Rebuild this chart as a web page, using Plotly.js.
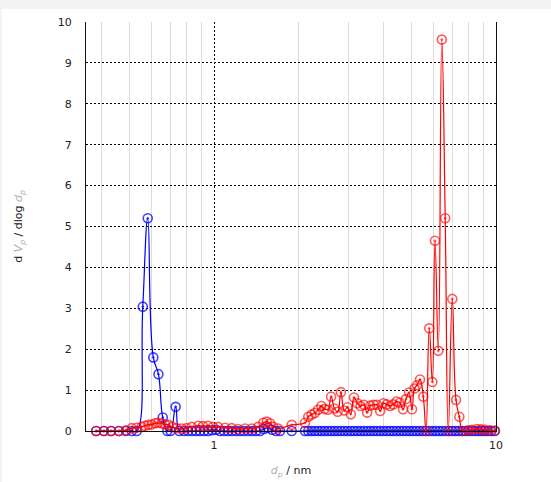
<!DOCTYPE html>
<html><head><meta charset="utf-8">
<script src="https://cdn.plot.ly/plotly-3.0.1.min.js"></script>
<style>
html,body{margin:0;padding:0;background:#f4f4f4;width:551px;height:482px;overflow:hidden}
#chart{position:absolute;left:2px;top:9px;width:549px;height:473px;background:#fff}
</style></head>
<body><div id="chart"></div>
<script>
// Pore diameter d_p (nm) and dV_p/dlog d_p, series 1 (red)
const dpRed = [0.382,0.407,0.431,0.460,0.487,0.511,0.532,0.554,0.569,0.585,0.601,0.618,0.633,0.652,0.670,0.689,0.711,0.737,0.768,0.800,0.834,0.880,0.914,0.952,0.992,1.033,1.094,1.155,1.216,1.288,1.360,1.432,1.496,1.538,1.580,1.623,1.687,1.886,2.102,
  2.159,2.217,2.277,2.339,2.402,2.467,2.534,2.602,2.673,2.745,2.819,2.896,2.974,3.055,3.137,3.222,3.309,3.399,3.491,3.585,3.682,3.782,3.884,3.989,4.097,4.208,4.322,4.439,4.559,
  4.679,4.796,4.915,5.037,5.140,5.246,5.376,5.523,5.646,5.797,5.945,6.077,6.243,6.424,6.605,6.774,6.998,7.214,7.411,7.619,7.956,8.220,8.562,8.846,9.141,9.521,9.919,10.59];
const dvRed = [0,0,0,0,0.02,0.07,0.08,0.10,0.13,0.15,0.16,0.19,0.20,0.19,0.16,0.15,0.10,0.07,0.06,0.07,0.10,0.13,0.12,0.13,0.10,0.10,0.08,0.07,0.05,0.06,0.06,0.10,0.20,0.23,0.19,0.10,0.06,0.15,0.20,
  0.35,0.40,0.44,0.52,0.61,0.54,0.52,0.84,0.55,0.47,0.95,0.50,0.58,0.41,0.82,0.68,0.61,0.64,0.45,0.62,0.64,0.64,0.49,0.68,0.65,0.61,0.65,0.72,0.69,
  0.53,0.78,0.94,0.53,1.04,1.12,1.26,0.84,0.00,2.51,1.20,4.65,1.96,9.57,5.20,0.00,3.23,0.76,0.35,0.00,0.02,0.03,0.05,0.04,0.03,0.02,0.01,0.00];

// series 2 (blue)
const dpBlue = [0.382,0.407,0.431,0.460,0.487,0.511,0.532,0.559,0.582,0.609,0.635,0.658,0.683,0.701,0.731,0.753,
  0.783,0.809,0.836,0.864,0.892,0.922,0.952,0.984,1.016,1.050,1.085,1.121,1.158,1.197,1.236,1.277,1.320,1.364,1.409,1.456,1.504,1.554,1.606,1.659,1.714,1.886,2.102,
  2.159,2.217,2.277,2.339,2.402,2.467,2.534,2.602,2.673,2.745,2.819,2.896,2.974,3.055,3.137,3.222,3.309,3.399,3.491,3.585,3.682,3.782,3.884,3.989,4.097,4.208,4.322,4.439,4.559,
  4.682,4.809,4.939,5.073,5.210,5.351,5.496,5.645,5.797,5.954,6.115,6.281,6.451,6.625,6.805,6.989,7.178,7.372,7.572,7.777,7.987,8.203,8.425,8.653,8.887,9.128,9.375,9.629,9.889,10.16,10.59];
const dvBlue = [0,0,0,0,0,0,0,3.04,5.20,1.80,1.39,0.33,0,0,0.59,0,
  0,0,0,0,0,0,0,0.02,0.03,0,0,0,0,0,0,0,0,0,0,0,0.05,0.08,0.03,0,0,0,0,
  0,0,0,0,0,0,0,0,0,0,0,0,0,0,0,0,0,0,0,0,0,0,0,0,0,0,0,0,0,
  0,0,0,0,0,0,0,0,0,0,0,0,0,0,0,0,0,0,0,0,0,0,0,0,0,0,0,0,0,0,0];

const yTicks = [0,1,2,3,4,5,6,7,8,9,10];
const xTicks = [1,10];
const xMinor = [0.4,0.5,0.6,0.7,0.8,0.9,2,3,4,5,6,7,8,9];

const mk = (c) => ({symbol:'circle-open-dot', size:9, color:c, line:{color:c, width:1.6}});
const traces = [
  {x:dpBlue, y:dvBlue, type:'scatter', mode:'lines+markers', cliponaxis:false,
   line:{color:'#0000ff', width:1.2, shape:'spline', smoothing:1.3}, marker:mk('rgba(0,0,255,0.75)')},
  {x:dpRed, y:dvRed, type:'scatter', mode:'lines+markers', cliponaxis:false,
   line:{color:'#ff0000', width:1.2, shape:'spline', smoothing:1.3}, marker:mk('rgba(255,0,0,0.65)')}
];
const layout = {
  width:549, height:473, paper_bgcolor:'#ffffff', plot_bgcolor:'#ffffff',
  margin:{l:84, r:55, t:13, b:51}, showlegend:false,
  font:{family:'DejaVu Sans, Verdana, sans-serif', size:11, color:'#222'},
  xaxis:{type:'log', range:[-0.454, 1], tickmode:'array', tickvals:xTicks, ticktext:xTicks.map(String),
    showgrid:true, gridcolor:'#000', griddash:'2px,2px', gridwidth:1,
    minor:{tickmode:'array', tickvals:xMinor, showgrid:true, gridcolor:'#dcdcdc', gridwidth:1, griddash:'solid', ticks:''},
    showline:true, linecolor:'#111', linewidth:1, mirror:false, ticks:'', ticklabelstandoff:4, zeroline:false,
    title:{text:'<i><span style="color:#b0b0b0">d</span></i><sub><i><span style="color:#b0b0b0">p</span></i></sub> / nm', standoff:15, font:{size:11}}},
  yaxis:{range:[0,10], tickmode:'array', tickvals:yTicks, ticktext:yTicks.map(String),
    showgrid:true, gridcolor:'#000', griddash:'2px,2px', gridwidth:1,
    showline:true, linecolor:'#111', linewidth:1, mirror:true, ticks:'', ticklabelstandoff:11, zeroline:false,
    title:{text:'d <i><span style="color:#b0b0b0">V</span></i><sub><i><span style="color:#b0b0b0">p</span></i></sub> / dlog <i><span style="color:#b0b0b0">d</span></i><sub><i><span style="color:#b0b0b0">p</span></i></sub>', standoff:32, font:{size:11}}}
};
Plotly.newPlot('chart', traces, layout, {displayModeBar:false, staticPlot:true});
</script></body></html>
